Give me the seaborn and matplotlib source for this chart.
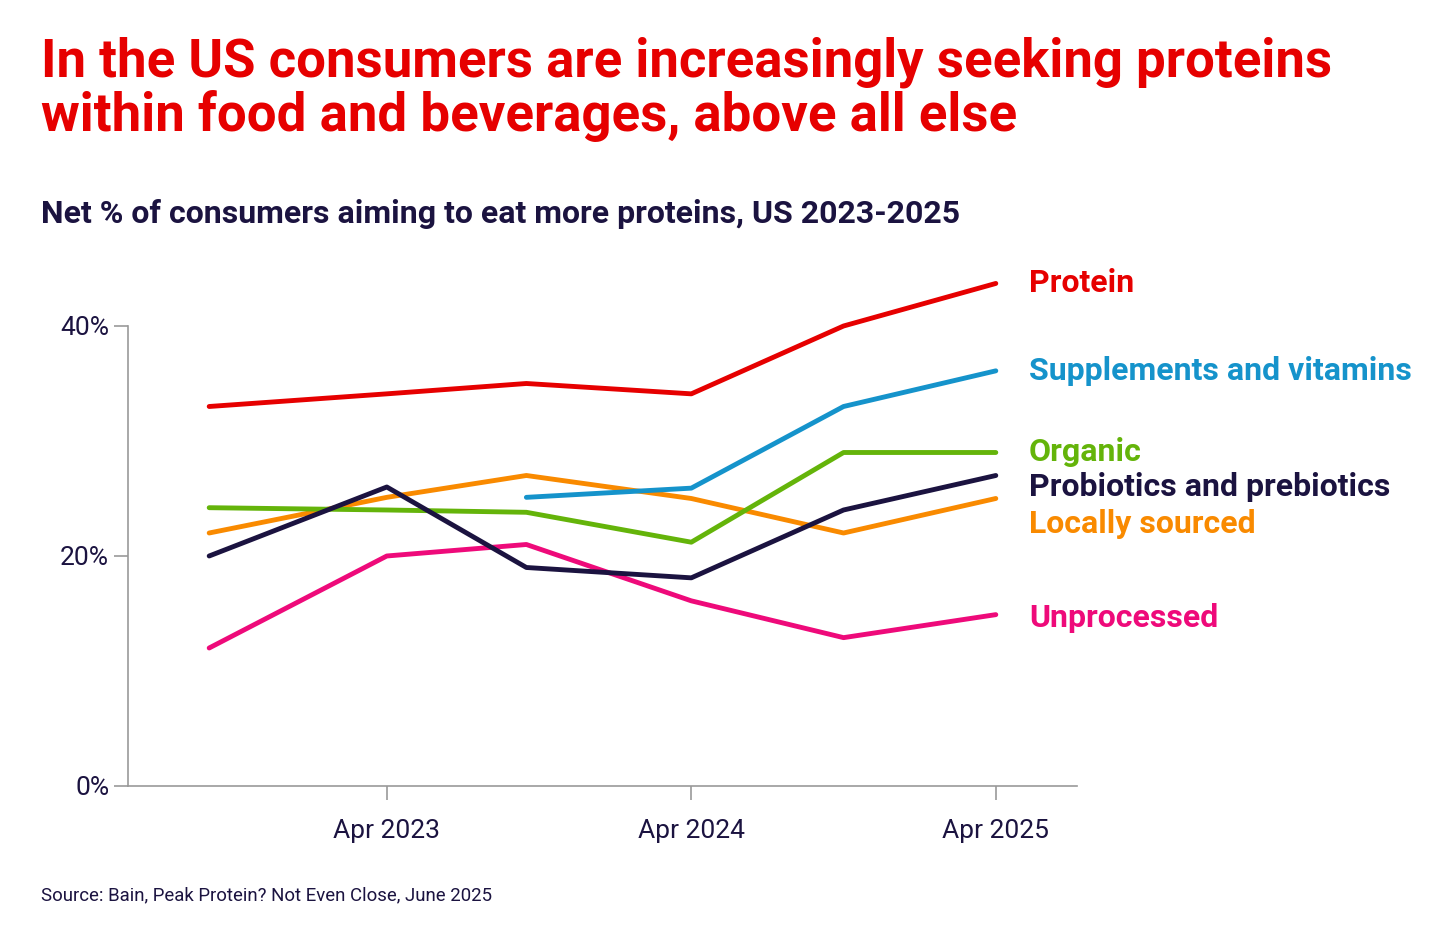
import matplotlib
matplotlib.use("Agg")
import matplotlib.pyplot as plt
import seaborn as sns
import pandas as pd

sns.set_theme(style="white")
plt.rcParams['font.family'] = ['Roboto', 'DejaVu Sans']

# months since Jan 2022
months = [8, 15, 20.5, 27, 33, 39]
protein = [33.0, 34.1, 35.0, 34.1, 40.0, 43.7]
supplements = [None, None, 25.1, 25.9, 33.0, 36.1]
organic = [24.2, 24.0, 23.8, 21.2, 29.0, 29.0]
probiotics = [20.0, 26.0, 19.0, 18.1, 24.0, 27.0]
local = [22.0, 25.1, 27.0, 25.0, 22.0, 25.0]
unprocessed = [12.0, 20.0, 21.0, 16.1, 12.9, 14.9]

series = {
    "Protein": (protein, "#E60000"),
    "Supplements and vitamins": (supplements, "#1593CB"),
    "Organic": (organic, "#64B40A"),
    "Probiotics and prebiotics": (probiotics, "#1B1340"),
    "Locally sourced": (local, "#F98A00"),
    "Unprocessed": (unprocessed, "#EE0A7A"),
}
label_y = {"Protein": 43.7, "Supplements and vitamins": 36.1, "Organic": 29.0,
           "Probiotics and prebiotics": 26.0, "Locally sourced": 22.8, "Unprocessed": 14.6}

rows = []
for name, (vals, _) in series.items():
    for m, v in zip(months, vals):
        if v is not None:
            rows.append({"month": m, "value": v, "series": name})
df = pd.DataFrame(rows)

fig = plt.figure(figsize=(14.56, 9.43), dpi=100)
ax = fig.add_axes([0.0879, 0.1665, 0.6518, 0.4878])
order = ["Unprocessed", "Locally sourced", "Organic", "Probiotics and prebiotics",
         "Supplements and vitamins", "Protein"]
for name in order:
    sub = df[df.series == name]
    sns.lineplot(data=sub, x="month", y="value", color=series[name][1], lw=3.5,
                 ax=ax, clip_on=False)
    ax.text(40.3, label_y[name], name, color=series[name][1], fontsize=23,
            fontweight="bold", va="center", ha="left")

ax.set_xlim(4.8, 42.2)
ax.set_ylim(0, 40)
ax.set_yticks([0, 20, 40])
ax.set_yticklabels(["0%", "20%", "40%"])
ax.set_xticks([15, 27, 39])
ax.set_xticklabels(["Apr 2023", "Apr 2024", "Apr 2025"])
ax.set_xlabel("")
ax.set_ylabel("")
for s in ["top", "right"]:
    ax.spines[s].set_visible(False)
for s in ["left", "bottom"]:
    ax.spines[s].set_color("#999999")
    ax.spines[s].set_linewidth(1.2)
ax.tick_params(axis="both", labelsize=19, colors="#1B1340", length=10, width=1.2,
               color="#999999", direction="out", left=True, bottom=True)
ax.tick_params(axis="x", pad=14)

fig.text(0.028, 0.849, "In the US consumers are increasingly seeking proteins\nwithin food and beverages, above all else",
         color="#E60000", fontsize=38, fontweight="bold", va="bottom", ha="left", linespacing=1.05)
fig.text(0.028, 0.773, "Net % of consumers aiming to eat more proteins, US 2023-2025",
         color="#1B1340", fontsize=23, fontweight="bold", ha="left", va="center")
fig.text(0.028, 0.05, "Source: Bain, Peak Protein? Not Even Close, June 2025",
         color="#1B1340", fontsize=13.4, ha="left", va="center")

fig.savefig("out.png", dpi=100)
